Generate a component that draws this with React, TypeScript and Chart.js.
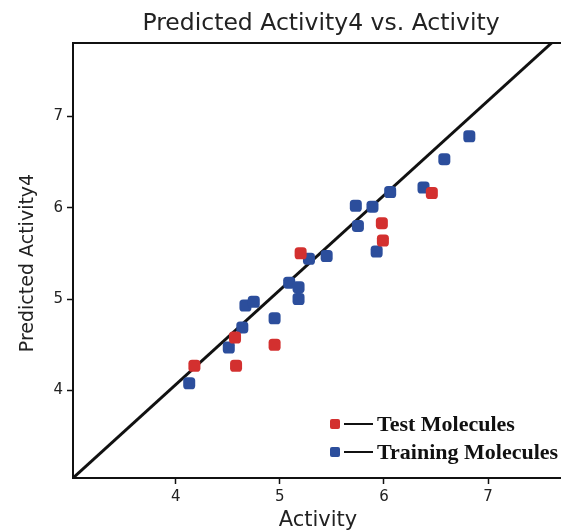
import React, { useEffect, useRef } from "react";
import { Chart, registerables } from "chart.js";

Chart.register(...registerables);

const TITLE = "Predicted Activity4 vs. Activity";
const X_TITLE = "Activity";
const Y_TITLE = "Predicted Activity4";
const LEGEND_LABELS = ["Test Molecules", "Training Molecules"];

const X_TICKS = [4, 5, 6, 7];
const Y_TICKS = [4, 5, 6, 7];
const X_MIN = 3.014;
const X_MAX = 7.71;
const Y_MIN = 3.044;
const Y_MAX = 7.8;

const TEST_X = [4.18, 4.58, 4.57, 4.95, 5.2, 5.98, 5.99, 6.46];
const TEST_Y = [4.27, 4.27, 4.58, 4.5, 5.5, 5.83, 5.64, 6.16];

const TRAIN_X = [4.13, 4.51, 4.64, 4.67, 4.75, 4.95, 5.09, 5.18, 5.18, 5.28, 5.45, 5.73, 5.89, 5.75, 5.93, 6.06, 6.38, 6.58, 6.82];
const TRAIN_Y = [4.08, 4.47, 4.69, 4.93, 4.97, 4.79, 5.18, 5.13, 5.0, 5.44, 5.47, 6.02, 6.01, 5.8, 5.52, 6.17, 6.22, 6.53, 6.78];

const FIT_X = [3.014, 7.61];
const FIT_Y = [3.044, 7.8];

const RED = "#d3302f";
const BLUE = "#2c4e9c";

const zip = (xs: number[], ys: number[]) => xs.map((x, i) => ({ x, y: ys[i] }));

const decor = {
  id: "decor",
  afterDraw(chart: any) {
    const { ctx, chartArea: a } = chart;
    ctx.save();
    ctx.strokeStyle = "#111";
    ctx.lineWidth = 2;
    ctx.beginPath();
    ctx.moveTo(a.left - 1, a.top);
    ctx.lineTo(a.right + 10, a.top);
    ctx.stroke();

    ctx.fillStyle = "#222";
    ctx.textAlign = "center";
    ctx.textBaseline = "middle";
    ctx.font = '23.5px "DejaVu Sans"';
    ctx.fillText(TITLE, 321, 24);
    ctx.font = '21px "DejaVu Sans"';
    ctx.fillText(X_TITLE, 318, 521);
    ctx.save();
    ctx.translate(28, 263);
    ctx.rotate(-Math.PI / 2);
    ctx.font = '19px "DejaVu Sans"';
    ctx.fillText(Y_TITLE, 0, 0);
    ctx.restore();

    const colors = [RED, BLUE];
    const ys = [424, 452];
    LEGEND_LABELS.forEach((label, i) => {
      const y = ys[i];
      ctx.fillStyle = colors[i];
      ctx.beginPath();
      (ctx as any).roundRect(330, y - 5, 10, 10, 2);
      ctx.fill();
      ctx.strokeStyle = "#111";
      ctx.lineWidth = 2;
      ctx.beginPath();
      ctx.moveTo(344, y);
      ctx.lineTo(373, y);
      ctx.stroke();
      ctx.fillStyle = "#111";
      ctx.textAlign = "left";
      ctx.font = 'bold 22px "Liberation Serif"';
      ctx.fillText(label, 377, y + 1);
    });
    ctx.restore();
  },
};

export default function App() {
  const ref = useRef<HTMLCanvasElement>(null);
  useEffect(() => {
    if (!ref.current) return;
    const axisCommon = {
      type: "linear" as const,
      grid: { drawOnChartArea: false, drawTicks: true, tickLength: 6, tickColor: "#111", tickWidth: 1.5 },
      border: { display: true, color: "#111", width: 2 },
      ticks: { color: "#222", font: { family: "DejaVu Sans", size: 15 }, padding: 4 },
    };
    const chart = new Chart(ref.current, {
      type: "scatter",
      data: {
        datasets: [
          {
            label: LEGEND_LABELS[0],
            data: zip(TEST_X, TEST_Y),
            backgroundColor: RED,
            borderColor: RED,
            pointStyle: "rectRounded",
            pointRadius: 7,
            borderWidth: 0,
          },
          {
            label: LEGEND_LABELS[1],
            data: zip(TRAIN_X, TRAIN_Y),
            backgroundColor: BLUE,
            borderColor: BLUE,
            pointStyle: "rectRounded",
            pointRadius: 7,
            borderWidth: 0,
          },
          {
            label: "fit",
            data: zip(FIT_X, FIT_Y),
            showLine: true,
            borderColor: "#111",
            borderWidth: 3,
            pointRadius: 0,
          } as any,
        ],
      },
      options: {
        responsive: false,
        animation: false,
        layout: { padding: { top: 43, left: 0, right: 0, bottom: 0 } },
        plugins: { legend: { display: false }, title: { display: false }, tooltip: { enabled: false } },
        scales: {
          x: {
            ...axisCommon,
            min: X_MIN,
            max: X_MAX,
            afterBuildTicks: (s: any) => { s.ticks = X_TICKS.map((v) => ({ value: v })); },
            afterFit: (s: any) => { s.height = 53; },
          },
          y: {
            ...axisCommon,
            min: Y_MIN,
            max: Y_MAX,
            afterBuildTicks: (s: any) => { s.ticks = Y_TICKS.map((v) => ({ value: v })); },
            afterFit: (s: any) => { s.width = 73; },
          },
        },
      } as any,
      plugins: [decor],
    });
    return () => chart.destroy();
  }, []);
  return (
    <div style={{ position: "fixed", left: 0, top: 0, width: 561, height: 531, overflow: "hidden", background: "#fff" }}>
      <canvas ref={ref} width={569} height={531} style={{ display: "block" }} />
    </div>
  );
}
